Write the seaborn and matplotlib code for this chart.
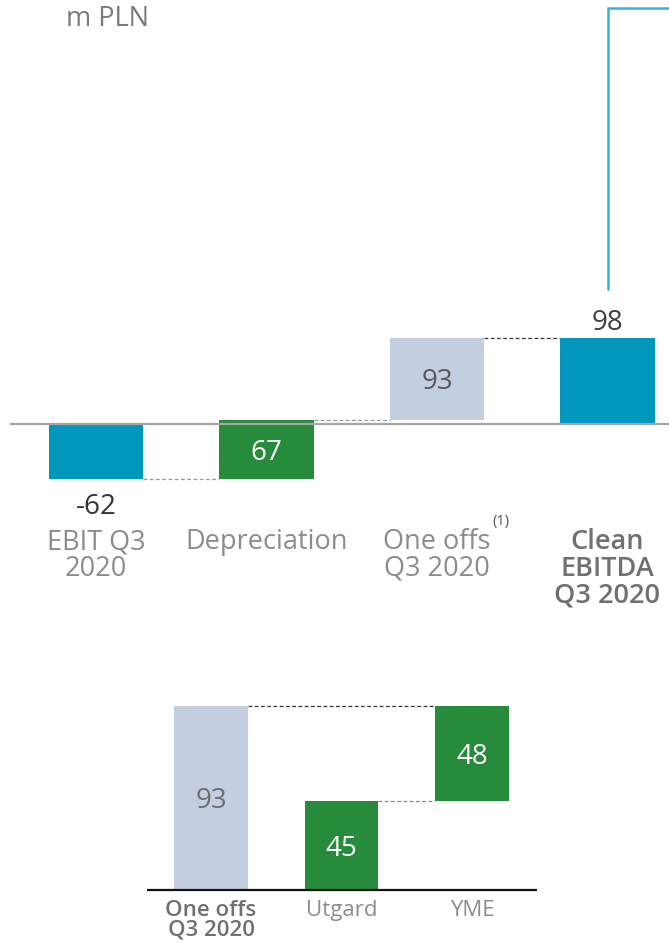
import matplotlib
matplotlib.use("Agg")
import matplotlib.pyplot as plt
import seaborn as sns

sns.set_theme(style="white")
plt.rcParams["font.family"] = ["Open Sans", "DejaVu Sans"]

# Bridge: EBIT -> Clean EBITDA (m PLN)
bridge_labels = ["EBIT Q3\n2020", "Depreciation", "One offs\nQ3 2020", "Clean\nEBITDA\nQ3 2020"]
bridge_values = [-62, 67, 93, 98]
bridge_kind = ["total", "delta", "delta", "total"]

# Breakdown of one-offs
split_labels = ["One offs\nQ3 2020", "Utgard", "YME"]
split_values = [93, 45, 48]
split_kind = ["total", "part", "part"]

TEAL = "#0097BD"
GREEN = "#268C3C"
LIGHT = "#C3CEE0"
CYAN = "#33B4D9"

W, H = 669, 943
fig = plt.figure(figsize=(W / 100, H / 100), dpi=100)


def fig_box(x0, x1, y_top, y_bot):
    return [x0 / W, 1 - y_bot / H, (x1 - x0) / W, (y_bot - y_top) / H]


def bridge_spans(values, kinds):
    bottoms, tops = [], []
    level = 0
    for v, k in zip(values, kinds):
        if k == "total":
            b, t = min(0, v), max(0, v)
            level = v
        else:
            b, t = level, level + v
            level = level + v
        bottoms.append(b)
        tops.append(t)
    return bottoms, tops


def breakdown_spans(values, kinds):
    bottoms, tops = [], []
    level = 0
    for v, k in zip(values, kinds):
        if k == "total":
            bottoms.append(0)
            tops.append(v)
        else:
            bottoms.append(level)
            tops.append(level + v)
            level += v
    return bottoms, tops


# ---------------- upper bridge ----------------
k1 = 0.88  # pixels per unit
ax1 = fig.add_axes(fig_box(10, 669, 0, 500))
ax1.set_xlim((10 - 96) / 170.5, (669 - 96) / 170.5)
ax1.set_ylim(-(500 - 424) / k1, 424 / k1)
ax1.axis("off")

b1, t1 = bridge_spans(bridge_values, bridge_kind)
colors1 = []
for k, lab in zip(bridge_kind, bridge_labels):
    if k == "total":
        colors1.append(TEAL)
    else:
        colors1.append(GREEN if lab == "Depreciation" else LIGHT)
bw1 = 0.557
xs1 = list(range(len(bridge_values)))
ax1.bar(xs1, [t - b for b, t in zip(b1, t1)], bottom=b1, width=bw1,
        color=colors1, edgecolor="none", zorder=2)
ax1.axhline(0, color="#A6A6A6", lw=1.6, zorder=3)

# connectors between consecutive bars
conn = [(0, 1, b1[0], "#999999"),
        (1, 2, t1[1], "#999999"),
        (2, 3, t1[2], "#333333")]
for i, j, y, c in conn:
    ax1.plot([i + bw1 / 2, j - bw1 / 2], [y, y], ls=(0, (3, 2)), lw=0.9, color=c, zorder=1)

# value labels
ax1.annotate(str(bridge_values[0]), (0, b1[0]), xytext=(0, -18), textcoords="offset points",
             ha="center", va="center_baseline", fontsize=20, color="#333333")
ax1.text(1, (b1[1] + t1[1]) / 2, str(bridge_values[1]), ha="center", va="center_baseline",
         fontsize=20, color="white")
ax1.text(2, (b1[2] + t1[2]) / 2, str(bridge_values[2]), ha="center", va="center_baseline",
         fontsize=20, color="#595959")
ax1.annotate(str(bridge_values[3]), (3, t1[3]), xytext=(0, 13), textcoords="offset points",
             ha="center", va="center_baseline", fontsize=20, color="#404040")

# category labels
for i, lab in enumerate(bridge_labels):
    bold = lab.startswith("Clean")
    ax1.annotate(lab, (i, 0), xytext=(0, -75), textcoords="offset points",
                 ha="center", va="top", fontsize=19.5, linespacing=0.93,
                 color="#707070" if bold else "#8C8C8C",
                 fontweight="semibold" if bold else "normal", annotation_clip=False)
ax1.annotate("(1)", (2, 0), xytext=(46, -65), textcoords="offset points",
             ha="center", va="top", fontsize=10.5, color="#555555", annotation_clip=False)

# bracket line above the clean EBITDA bar
ytop = (424 - 8) / k1
ybot = (424 - 289) / k1
ax1.plot([3, 3, ax1.get_xlim()[1]], [ybot, ytop, ytop], color=CYAN, lw=1.8,
         clip_on=False, solid_joinstyle="miter")

fig.text(108 / W, 1 - 15 / H, "m PLN", ha="center", va="center_baseline",
         fontsize=19.5, color="#7A7A7A")

# ---------------- lower breakdown ----------------
k2 = 1.98
ax2 = fig.add_axes(fig_box(147, 537, 680, 943))
ax2.set_xlim((147 - 211) / 130.5, (537 - 211) / 130.5)
ax2.set_ylim(-(943 - 890) / k2, (890 - 680) / k2)
ax2.axis("off")

b2, t2 = breakdown_spans(split_values, split_kind)
colors2 = [LIGHT if k == "total" else GREEN for k in split_kind]
bw2 = 0.56
xs2 = list(range(len(split_values)))
ax2.bar(xs2, [t - b for b, t in zip(b2, t2)], bottom=b2, width=bw2,
        color=colors2, edgecolor="none", zorder=2)
ax2.axhline(0, color="#111111", lw=1.6, zorder=3)

ax2.plot([0 + bw2 / 2, 2 - bw2 / 2], [t2[0], t2[0]], ls=(0, (3, 2)), lw=0.9,
         color="#333333", zorder=1)
ax2.plot([1 + bw2 / 2, 2 - bw2 / 2], [t2[1], t2[1]], ls=(0, (3, 2)), lw=0.9,
         color="#888888", zorder=1)

for i, (b, t) in enumerate(zip(b2, t2)):
    ax2.text(i, (b + t) / 2, str(split_values[i]), ha="center", va="center_baseline",
             fontsize=20, color="#6E6E6E" if split_kind[i] == "total" else "white")

for i, lab in enumerate(split_labels):
    bold = split_kind[i] == "total"
    ax2.annotate(lab, (i, 0), xytext=(0, -7), textcoords="offset points",
                 ha="center", va="top", fontsize=16, linespacing=0.92,
                 color="#707070" if bold else "#8C8C8C",
                 fontweight="semibold" if bold else "normal", annotation_clip=False)

fig.savefig("out.png", dpi=100)
